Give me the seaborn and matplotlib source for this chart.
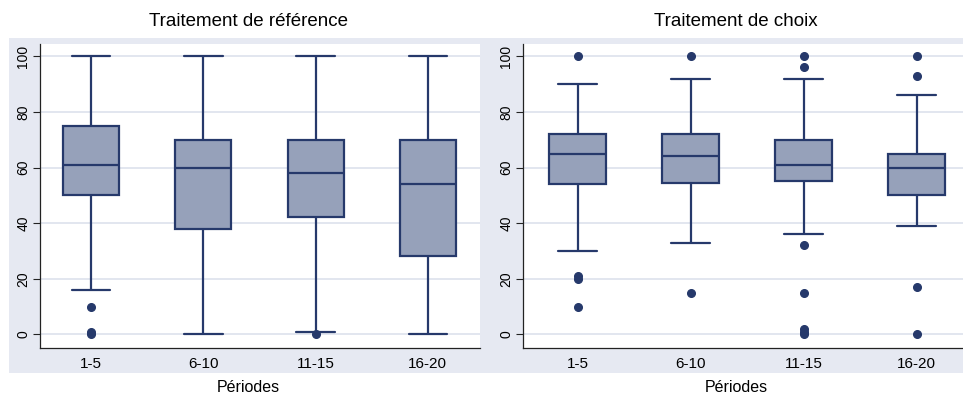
import matplotlib
matplotlib.use("Agg")
import matplotlib.pyplot as plt
from matplotlib.patches import Rectangle
import seaborn as sns
import pandas as pd

# Periods (x categories)
periods = ["1-5", "6-10", "11-15", "16-20"]

ref_1_5 = [0, 1, 10, 16, 50, 55, 58, 60, 61, 64, 68, 72, 75, 80, 90, 95, 100]
ref_6_10 = [0, 20, 38, 50, 60, 65, 70, 85, 100]
ref_11_15 = [0, 1, 25, 42.2, 48, 52, 58, 62, 66, 69.8, 80, 90, 100]
ref_16_20 = [0, 15, 28, 40, 54, 62, 70, 85, 100]

choix_1_5 = [10, 20, 21, 30, 54, 58, 62, 64, 65, 67, 69, 70, 72, 76, 80, 90, 100]
choix_6_10 = [15, 33, 54.5, 60, 64, 68, 72, 92, 100]
choix_11_15 = [0, 1, 2, 15, 32, 36, 55, 56, 57, 58, 59, 60, 61, 62, 63, 65, 67,
               68, 70, 75, 80, 85, 92, 96, 100]
choix_16_20 = [0, 17, 39, 50, 54, 57, 60, 62, 63, 65, 86, 93, 100]

titles = ["Traitement de référence", "Traitement de choix"]
y_ticks = [0, 20, 40, 60, 80, 100]

FILL = "#96a1ba"
NAVY = "#26396b"
REGION = "#e6e9f2"
GRID = "#dfe4ee"


def to_frame(groups):
    rows = []
    for p, vals in zip(periods, groups):
        rows += [{"periode": p, "valeur": v} for v in vals]
    return pd.DataFrame(rows)


df_ref = to_frame([ref_1_5, ref_6_10, ref_11_15, ref_16_20])
df_choix = to_frame([choix_1_5, choix_6_10, choix_11_15, choix_16_20])

sns.set_style("white")
plt.rcParams["font.family"] = ["Liberation Sans", "DejaVu Sans"]
plt.rcParams["text.color"] = "black"
plt.rcParams["xtick.color"] = "black"
plt.rcParams["ytick.color"] = "black"

W, H = 963, 394
fig = plt.figure(figsize=(W / 100, H / 100), dpi=100)


def px(x0, y0, x1, y1):
    return [x0 / W, 1 - y1 / H, (x1 - x0) / W, (y1 - y0) / H]


# light bluish region behind both panels
fig.patches.append(Rectangle((9 / W, 1 - 372.5 / H), (963 - 9) / W, (372.5 - 38.3) / H,
                             transform=fig.transFigure, facecolor=REGION,
                             edgecolor="none", zorder=-5))

panels = [
    (df_ref, px(40, 43.5, 480, 347.7), (-0.458, 3.467), 248),
    (df_choix, px(523, 43.5, 963, 347.7), (-0.484, 3.41), 736),
]

for (df, rect, xlim, cx), title in zip(panels, titles):
    ax = fig.add_axes(rect)
    ax.set_zorder(2)
    ax.set_facecolor("white")
    sns.boxplot(data=df, x="periode", y="valeur", order=periods, ax=ax,
                width=0.5, whis=1.5, color=FILL, saturation=1,
                linecolor=NAVY, linewidth=1.6, capwidths=0.34,
                flierprops=dict(marker="o", markerfacecolor=NAVY,
                                markeredgecolor=NAVY, markersize=5.5))
    ax.set_xlim(*xlim)
    ax.set_ylim(-4.8, 104.6)
    ax.set_yticks(y_ticks)
    ax.set_yticklabels([str(t) for t in y_ticks], rotation=90, va="center")
    ax.yaxis.grid(True, color=GRID, linewidth=1.3)
    ax.set_axisbelow(True)
    ax.tick_params(axis="y", length=5, width=0.8, color="#222222", pad=2,
                   labelsize=10, left=True)
    ax.tick_params(axis="x", length=0, pad=7, labelsize=11)
    ax.set_xlabel("")
    ax.set_ylabel("")
    for s in ["top", "right"]:
        ax.spines[s].set_visible(False)
    for s in ["left", "bottom"]:
        ax.spines[s].set_color("#222222")
        ax.spines[s].set_linewidth(0.9)
    fig.text(cx / W, 1 - 22 / H, title, ha="center", va="center", fontsize=13.5)
    fig.text(cx / W, 1 - 387 / H, "Périodes", ha="center", va="center", fontsize=11.5)

fig.savefig("out.png", dpi=100)
